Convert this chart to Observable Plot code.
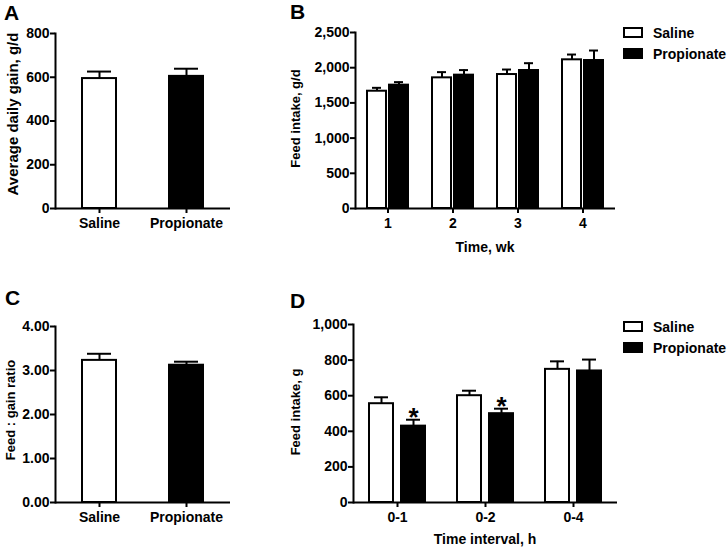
<!DOCTYPE html>
<html><head><meta charset="utf-8">
<script src="https://cdn.jsdelivr.net/npm/d3@7"></script>
<script src="https://cdn.jsdelivr.net/npm/@observablehq/plot@0.6"></script>
<style>
body{margin:0;background:#fff;}
#fig{position:relative;width:728px;height:549px;overflow:hidden;background:#fff;}
.panel{position:absolute;}
#overlay{position:absolute;left:0;top:0;pointer-events:none;}
</style></head><body><div id="fig"></div>
<script>
// ---------- data ----------
const treatments = ["Saline", "Propionate"];
const treatmentFills = ["white", "black"];

// A: average daily gain, g/d
const adgMean = [594, 604];
const adgSem = [32, 35];
const adgTicks = [0, 200, 400, 600, 800];

// B: feed intake by week, g/d
const weeks = ["1", "2", "3", "4"];
const weeklySalineMean = [1666, 1856, 1903, 2112];
const weeklySalineSem = [48, 81, 71, 75];
const weeklyPropMean = [1752, 1894, 1960, 2102];
const weeklyPropSem = [43, 72, 104, 142];
const weeklyTicks = [0, 500, 1000, 1500, 2000, 2500];

// C: feed : gain ratio
const ratioMean = [3.23, 3.12];
const ratioSem = [0.15, 0.08];
const ratioTicks = [0, 1, 2, 3, 4];

// D: feed intake by time interval, g
const intervals = ["0-1", "0-2", "0-4"];
const hourlySalineMean = [555, 600, 748];
const hourlySalineSem = [36, 28, 45];
const hourlyPropMean = [429, 499, 739];
const hourlyPropSem = [36, 28, 64];
const hourlyPropSignificant = [true, true, false];
const hourlyTicks = [0, 200, 400, 600, 800, 1000];

// ---------- tables ----------
const tableA = treatments.map((t, i) => ({treatment: t, mean: adgMean[i], sem: adgSem[i]}));
const tableC = treatments.map((t, i) => ({treatment: t, mean: ratioMean[i], sem: ratioSem[i]}));
const tableB = weeks.flatMap((w, i) => [
  {group: w, treatment: "Saline", mean: weeklySalineMean[i], sem: weeklySalineSem[i], sig: false},
  {group: w, treatment: "Propionate", mean: weeklyPropMean[i], sem: weeklyPropSem[i], sig: false}
]);
const tableD = intervals.flatMap((g, i) => [
  {group: g, treatment: "Saline", mean: hourlySalineMean[i], sem: hourlySalineSem[i], sig: false},
  {group: g, treatment: "Propionate", mean: hourlyPropMean[i], sem: hourlyPropSem[i], sig: hourlyPropSignificant[i]}
]);

const FONT = '"Liberation Sans", Arial, Helvetica, sans-serif';
const plotStyle = {fontFamily: FONT, fontSize: "14px", fontWeight: "bold", background: "transparent", color: "black", overflow: "visible"};
const colorScale = {domain: treatments, range: treatmentFills};
const errTop = d => d.mean + d.sem;

function simplePanel({data, yDomain, ticks, format, marginTop, marginBottom}) {
  return Plot.plot({
    width: 250, height: 250, marginLeft: 55, marginRight: 20, marginTop, marginBottom,
    style: plotStyle,
    x: {domain: treatments, paddingInner: 0.61, paddingOuter: 0.31},
    y: {domain: yDomain},
    color: colorScale,
    marks: [
      Plot.barY(data, {x: "treatment", y: "mean", fill: "treatment", stroke: "black", strokeWidth: 2}),
      Plot.ruleX(data, {x: "treatment", y1: "mean", y2: errTop, strokeWidth: 2}),
      Plot.tickY(data, {x: "treatment", y: errTop, strokeWidth: 2, insetLeft: 5, insetRight: 5}),
      Plot.frame({anchor: "left", strokeWidth: 2}),
      Plot.ruleY([yDomain[0]], {strokeWidth: 2}),
      Plot.axisY({ticks, tickFormat: format, tickSize: 5, tickPadding: 1, strokeWidth: 2, label: null}),
      Plot.axisX({tickSize: 5, tickPadding: 5, strokeWidth: 2, label: null})
    ]
  });
}

function groupedPanel({data, groups, yDomain, ticks, format, marginTop, marginBottom, marginRight, paddingInner, paddingOuter}) {
  return Plot.plot({
    width: 380, height: 250, marginLeft: 103, marginRight, marginTop, marginBottom,
    style: plotStyle,
    fx: {domain: groups, padding: 0},
    x: {domain: treatments, paddingInner, paddingOuter, axis: null},
    y: {domain: yDomain},
    color: colorScale,
    marks: [
      Plot.barY(data, {fx: "group", x: "treatment", y: "mean", fill: "treatment", stroke: "black", strokeWidth: 2}),
      Plot.ruleX(data, {fx: "group", x: "treatment", y1: "mean", y2: errTop, strokeWidth: 2}),
      Plot.tickY(data, {fx: "group", x: "treatment", y: errTop, strokeWidth: 2, insetLeft: 5, insetRight: 5}),
      Plot.text(data.filter(d => d.sig), {fx: "group", x: "treatment", y: errTop, text: () => "*", lineAnchor: "bottom", fontSize: 26, fontWeight: "bold", dy: 6}),
      Plot.ruleY([yDomain[0]], {strokeWidth: 2}),
      Plot.frame({anchor: "left", facetAnchor: "left", strokeWidth: 2}),
      Plot.axisY({ticks, tickFormat: format, tickSize: 5, tickPadding: 1, strokeWidth: 2, label: null}),
      Plot.axisFx({anchor: "bottom", tickSize: 5, tickPadding: 5, strokeWidth: 2, label: null})
    ]
  });
}

const fig = document.getElementById("fig");
function place(node, left, topPx) {
  const div = document.createElement("div");
  div.className = "panel";
  div.style.left = left + "px";
  div.style.top = topPx + "px";
  div.appendChild(node);
  fig.appendChild(div);
}

place(simplePanel({data: tableA, yDomain: [0, 800], ticks: adgTicks, format: d3.format("d"), marginTop: 33, marginBottom: 42}), 0, 0);
place(groupedPanel({data: tableB, groups: weeks, yDomain: [0, 2500], ticks: weeklyTicks, format: d3.format(","), marginTop: 32, marginBottom: 42, marginRight: 14, paddingInner: 0.15, paddingOuter: 0.5}), 250, 0);
place(simplePanel({data: tableC, yDomain: [0, 4], ticks: ratioTicks, format: d3.format(".2f"), marginTop: 36, marginBottom: 38}), 0, 290);
place(groupedPanel({data: tableD, groups: intervals, yDomain: [0, 1000], ticks: hourlyTicks, format: d3.format(","), marginTop: 34, marginBottom: 38, marginRight: 13, paddingInner: 0.26, paddingOuter: 0.49}), 250, 290);

// ---------- overlay text: panel letters, axis titles, legends ----------
const svg = d3.select(fig).append("svg").attr("id", "overlay")
  .attr("width", 728).attr("height", 549)
  .style("font-family", FONT).style("font-weight", "bold");

const letters = [["A", 4, 20], ["B", 290, 19], ["C", 5, 305], ["D", 290, 308]];
svg.selectAll("text.letter").data(letters).join("text")
  .attr("x", d => d[1]).attr("y", d => d[2]).attr("font-size", 21).text(d => d[0]);

const yTitles = [
  ["Average daily gain, g/d", 17.5, 114, 15],
  ["Feed intake, g/d", 300, 118.5, 13],
  ["Feed : gain ratio", 15, 410, 13],
  ["Feed intake, g", 300, 412, 13]
];
svg.selectAll("text.ytitle").data(yTitles).join("text")
  .attr("transform", d => `translate(${d[1]},${d[2]}) rotate(-90)`)
  .attr("text-anchor", "middle").attr("font-size", d => d[3]).text(d => d[0]);

const xTitles = [["Time, wk", 485, 252], ["Time interval, h", 485, 544]];
svg.selectAll("text.xtitle").data(xTitles).join("text")
  .attr("x", d => d[1]).attr("y", d => d[2])
  .attr("text-anchor", "middle").attr("font-size", 14).text(d => d[0]);

function legend(y0) {
  const g = svg.append("g");
  treatments.forEach((t, i) => {
    const y = y0 + i * 21;
    g.append("rect").attr("x", 624).attr("y", y).attr("width", 18).attr("height", 9)
      .attr("fill", treatmentFills[i]).attr("stroke", "black").attr("stroke-width", 2);
    g.append("text").attr("x", 653).attr("y", y + 10).attr("font-size", 14).text(t);
  });
}
legend(28);
legend(322);
</script></body></html>
